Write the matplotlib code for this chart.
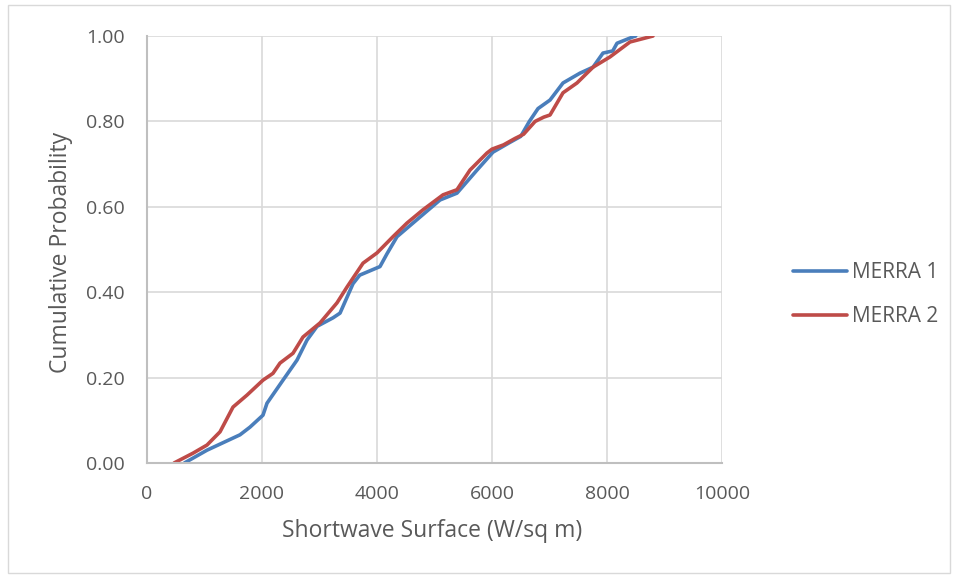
import matplotlib
matplotlib.use('Agg')
import matplotlib.pyplot as plt
from matplotlib.patches import Rectangle

# values
merra1_x = [650, 1043, 1617, 1791, 2017, 2087, 2365, 2609, 2783, 2957, 3235, 3357,
            3583, 3700, 4052, 4174, 4348, 4626, 5096, 5391, 5739, 6017, 6300, 6500,
            6650, 6800, 7009, 7235, 7530, 7757, 7930, 8100, 8174, 8452, 8500]
merra1_y = [0.0, 0.030, 0.066, 0.084, 0.112, 0.14, 0.194, 0.241, 0.288, 0.32, 0.34, 0.351,
            0.42, 0.44, 0.46, 0.49, 0.53, 0.562, 0.616, 0.632, 0.686, 0.728, 0.75, 0.765,
            0.80, 0.83, 0.85, 0.89, 0.913, 0.927, 0.96, 0.965, 0.983, 0.998, 1.0]

merra2_x = [470, 800, 1043, 1270, 1496, 1739, 2017, 2191, 2313, 2539, 2713, 3009,
            3304, 3478, 3757, 4000, 4278, 4522, 4800, 5148, 5391, 5617, 5913, 6000,
            6200, 6400, 6550, 6750, 6900, 7009, 7235, 7478, 7757, 8052, 8400, 8800]
merra2_y = [0.0, 0.023, 0.042, 0.073, 0.131, 0.159, 0.194, 0.21, 0.234, 0.257, 0.295, 0.328,
            0.375, 0.412, 0.468, 0.492, 0.53, 0.562, 0.593, 0.628, 0.64, 0.686, 0.726, 0.735,
            0.745, 0.76, 0.77, 0.80, 0.81, 0.815, 0.867, 0.89, 0.927, 0.951, 0.986, 1.0]

x_ticks = [0, 2000, 4000, 6000, 8000, 10000]
y_ticks = [0.0, 0.2, 0.4, 0.6, 0.8, 1.0]

plt.rcParams['font.family'] = ['Open Sans', 'DejaVu Sans']
text_col = '#595959'

fig = plt.figure(figsize=(9.58, 5.78), dpi=100)
ax = fig.add_axes([147 / 958, 115 / 578, 575 / 958, 427 / 578])

ax.plot(merra1_x, merra1_y, color='#4a7ebb', lw=2.6, label='MERRA 1', solid_capstyle='round')
ax.plot(merra2_x, merra2_y, color='#be4b48', lw=2.6, label='MERRA 2', solid_capstyle='round')

ax.set_xlim(0, 10000)
ax.set_ylim(0, 1)
ax.set_xticks(x_ticks)
ax.set_yticks(y_ticks)
ax.set_yticklabels([f'{v:.2f}' for v in y_ticks])
ax.grid(True, color='#d9d9d9', lw=1.2)
ax.set_axisbelow(True)
ax.tick_params(length=0, labelsize=14, colors=text_col)
ax.tick_params(axis='x', pad=16)
ax.tick_params(axis='y', pad=16)
for s in ['top', 'right']:
    ax.spines[s].set_visible(False)
for s in ['left', 'bottom']:
    ax.spines[s].set_color('#bfbfbf')
    ax.spines[s].set_linewidth(1.5)

ax.set_xlabel('Shortwave Surface (W/sq m)', fontsize=16.5, color=text_col)
ax.xaxis.set_label_coords(0.495, (463 - 531) / 427)
ax.xaxis.label.set_va('center')
ax.set_ylabel('Cumulative Probability', fontsize=16.5, color=text_col)
ax.yaxis.set_label_coords((61 - 147) / 575, (463 - 252) / 427)
ax.yaxis.label.set_va('center')

fig.legend(loc='center left', bbox_to_anchor=(793 / 958, 1 - 294.5 / 578), frameon=False,
           fontsize=15, labelcolor=text_col, handlelength=2.6, labelspacing=1.1,
           handletextpad=0.25, borderpad=0, borderaxespad=0)

fig.patches.append(Rectangle((8 / 958, 5 / 578), 942 / 958, 568 / 578, transform=fig.transFigure,
                             fill=False, edgecolor='#d9d9d9', lw=1))

fig.savefig('out.png', dpi=100)
